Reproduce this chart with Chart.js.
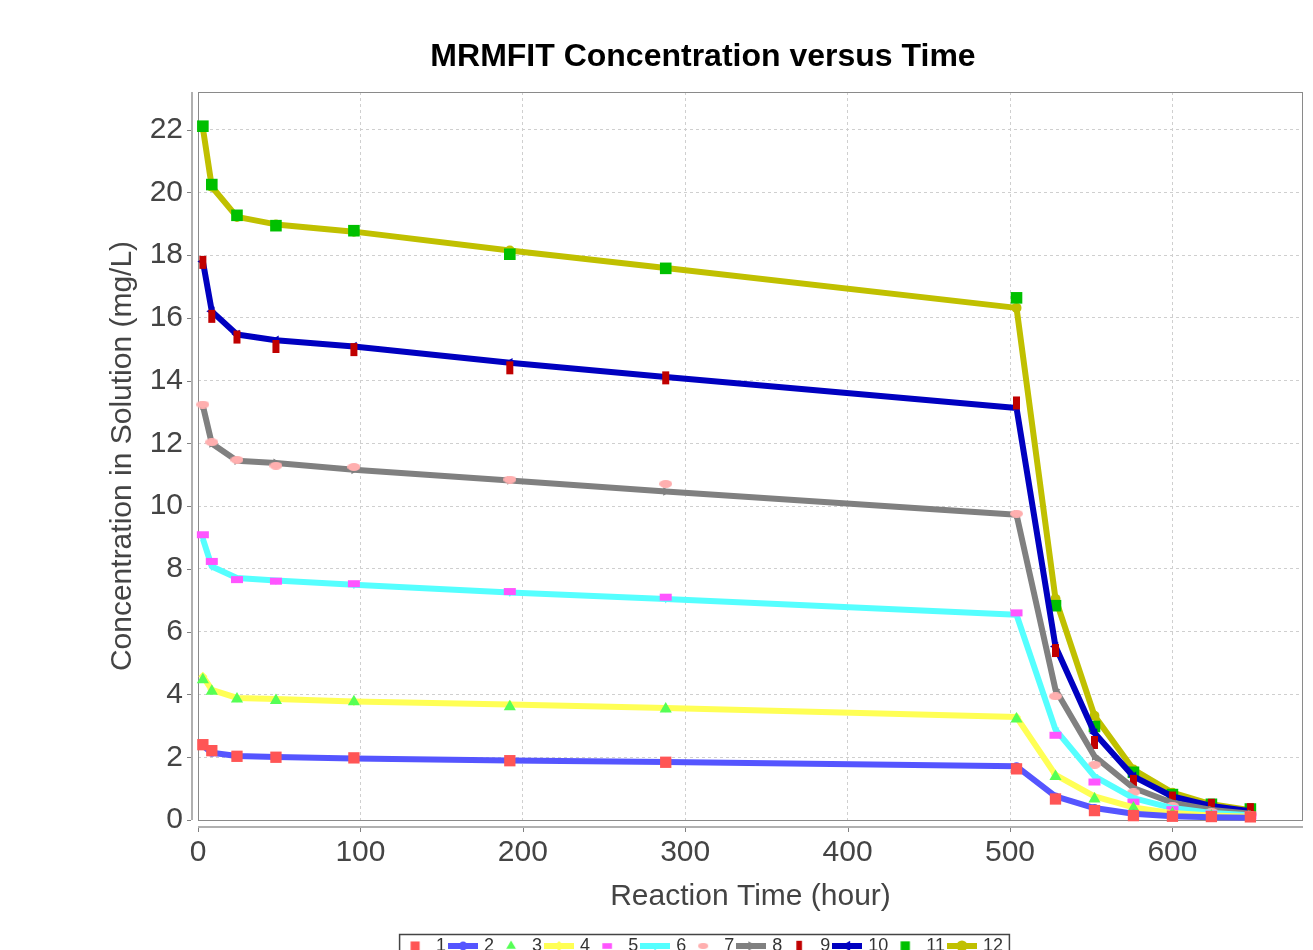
<!DOCTYPE html>
<html>
<head>
<meta charset="utf-8">
<script src="https://cdn.jsdelivr.net/npm/chart.js@4.4.1/dist/chart.umd.min.js"></script>
<style>
html,body{margin:0;padding:0;background:#fff;overflow:hidden;}
#wrap{position:relative;width:1313px;height:950px;overflow:hidden;background:#fff;}
#c{position:absolute;left:0;top:0;}
</style>
</head>
<body>
<div id="wrap"><canvas id="c" width="1406" height="965" style="width:1406px;height:965px"></canvas></div>
<script>
// ---- data ----
const times = [3, 8.5, 24, 48, 96, 192, 288, 504, 528, 552, 576, 600, 624, 648];
const seriesLabels = ['1','2','3','4','5','6','7','8','9','10','11','12'];
const s1  = [2.40, 2.21, 2.03, 2.00, 1.98, 1.89, 1.84, 1.63, 0.67, 0.30, 0.14, 0.12, 0.11, 0.10];
const s2  = [2.37, 2.14, 2.04, 2.01, 1.96, 1.90, 1.85, 1.71, 0.75, 0.38, 0.20, 0.12, 0.09, 0.07];
const s3  = [4.47, 4.10, 3.86, 3.81, 3.77, 3.61, 3.54, 3.22, 1.39, 0.67, 0.38, 0.21, 0.13, 0.09];
const s4  = [4.58, 4.15, 3.89, 3.86, 3.78, 3.68, 3.57, 3.28, 1.44, 0.75, 0.40, 0.22, 0.14, 0.10];
const s5  = [9.09, 8.24, 7.66, 7.61, 7.53, 7.28, 7.10, 6.60, 2.70, 1.21, 0.57, 0.33, 0.19, 0.13];
const s6  = [8.96, 8.08, 7.71, 7.63, 7.50, 7.25, 7.04, 6.54, 2.88, 1.39, 0.70, 0.38, 0.22, 0.15];
const s7  = [13.24, 12.04, 11.48, 11.29, 11.25, 10.85, 10.71, 9.76, 3.94, 1.76, 0.88, 0.45, 0.26, 0.17];
const s8  = [13.20, 12.00, 11.45, 11.38, 11.16, 10.82, 10.47, 9.73, 4.15, 2.03, 1.02, 0.55, 0.32, 0.20];
const s9  = [17.77, 16.05, 15.39, 15.09, 14.99, 14.41, 14.09, 13.29, 5.40, 2.47, 1.23, 0.70, 0.47, 0.33];
const s10 = [17.80, 16.21, 15.47, 15.29, 15.09, 14.57, 14.12, 13.13, 5.53, 2.77, 1.39, 0.75, 0.45, 0.28];
const s11 = [22.11, 20.25, 19.27, 18.94, 18.78, 18.03, 17.58, 16.64, 6.83, 2.98, 1.52, 0.81, 0.50, 0.35];
const s12 = [22.05, 20.18, 19.22, 18.98, 18.75, 18.15, 17.59, 16.32, 7.05, 3.32, 1.61, 0.87, 0.50, 0.31];
const xTickValues = [0, 100, 200, 300, 400, 500, 600];
const yTickValues = [0, 2, 4, 6, 8, 10, 12, 14, 16, 18, 20, 22];
const xAxisMax = 680.4;
const yAxisMax = 23.2;

// ---- styles ----
const FONT = "'Liberation Sans', Arial, sans-serif";
function ellipseImg(color, w, h) {
  const c = document.createElement('canvas'); c.width = w; c.height = h;
  const g = c.getContext('2d'); g.fillStyle = color;
  g.beginPath(); g.ellipse(w/2, h/2, w/2, h/2, 0, 0, Math.PI*2); g.fill();
  return c;
}
const styles = [
  {color:'#FF5555', line:false, ps:'rect', r:8, rot:0, bw:0},
  {color:'#5555FF', line:true,  ps:'circle', r:4, rot:0, bw:0},
  {color:'#55FF55', line:false, ps:'triangle', r:7, rot:0, bw:0},
  {color:'#FFFF55', line:true,  ps:'rectRot', r:4.5, rot:0, bw:0},
  {color:'#FF55FF', line:false, ps:'line', r:6, rot:0, bw:7},
  {color:'#55FFFF', line:true,  ps:'triangle', r:4.5, rot:180, bw:0},
  {color:'#FFAFAF', line:false, ps:ellipseImg('#FFAFAF', 13, 8), r:6, rot:0, bw:0},
  {color:'#808080', line:true,  ps:'triangle', r:5, rot:90, bw:0},
  {color:'#C00000', line:false, ps:'line', r:6.5, rot:90, bw:7},
  {color:'#0000C0', line:true,  ps:'triangle', r:5.5, rot:270, bw:0},
  {color:'#00C000', line:false, ps:'rect', r:8.2, rot:0, bw:0},
  {color:'#C0C000', line:true,  ps:'circle', r:5, rot:0, bw:0}
];
const seriesValues = [s1, s2, s3, s4, s5, s6, s7, s8, s9, s10, s11, s12];

function drawShape(g, st, x, y, scale) {
  const r = st.r * scale;
  g.save();
  g.fillStyle = st.color; g.strokeStyle = st.color;
  g.translate(x, y);
  g.rotate(st.rot * Math.PI / 180);
  if (typeof st.ps !== 'string') {
    const w = st.ps.width * scale, h = st.ps.height * scale;
    g.drawImage(st.ps, -w/2, -h/2, w, h);
  } else if (st.ps === 'rect') {
    const s = Math.SQRT1_2 * r; g.fillRect(-s, -s, 2*s, 2*s);
  } else if (st.ps === 'circle') {
    g.beginPath(); g.arc(0, 0, r, 0, Math.PI*2); g.fill();
  } else if (st.ps === 'triangle') {
    g.beginPath();
    for (let k = 0; k < 3; k++) {
      const a = k * 2 * Math.PI / 3;
      const px = Math.sin(a) * r, py = -Math.cos(a) * r;
      if (k === 0) g.moveTo(px, py); else g.lineTo(px, py);
    }
    g.closePath(); g.fill();
  } else if (st.ps === 'rectRot') {
    g.beginPath(); g.moveTo(0, -r); g.lineTo(r, 0); g.lineTo(0, r); g.lineTo(-r, 0); g.closePath(); g.fill();
  } else if (st.ps === 'line') {
    g.lineWidth = st.bw * scale; g.beginPath(); g.moveTo(-r, 0); g.lineTo(r, 0); g.stroke();
  }
  g.restore();
}
function legendIcon(st) {
  const c = document.createElement('canvas');
  c.width = st.line ? 30 : 16; c.height = 16;
  const g = c.getContext('2d');
  if (st.line) {
    g.strokeStyle = st.color; g.lineWidth = 6;
    g.beginPath(); g.moveTo(0, 8); g.lineTo(30, 8); g.stroke();
    drawShape(g, st, 15, 8, 1.1);
  } else {
    drawShape(g, st, 8, 8, 0.8);
  }
  return c;
}
const icons = styles.map(legendIcon);

const datasets = seriesValues.map((vals, i) => {
  const st = styles[i];
  return {
    label: seriesLabels[i],
    data: times.map((t, k) => ({x: t, y: vals[k]})),
    showLine: st.line,
    borderColor: st.color,
    backgroundColor: st.color,
    borderWidth: st.line ? 6 : 0,
    borderJoinStyle: 'round',
    tension: 0,
    fill: false,
    pointStyle: st.ps,
    pointRadius: st.r,
    pointRotation: st.rot,
    pointBackgroundColor: st.color,
    pointBorderColor: st.color,
    pointBorderWidth: st.bw,
    clip: 8
  };
});

const framePlugin = {
  id: 'frame',
  beforeDatasetsDraw(chart) {
    const {ctx, chartArea: a, scales: {x, y}} = chart;
    ctx.save();
    ctx.strokeStyle = '#8a8a8a'; ctx.lineWidth = 1;
    ctx.strokeRect(a.left + 0.5, a.top + 0.5, a.right - a.left - 1, a.bottom - a.top);
    ctx.strokeStyle = '#b0b0b0'; ctx.lineWidth = 2;
    const ax = a.left - 6, ay = a.bottom + 7;
    ctx.beginPath(); ctx.moveTo(ax, a.top); ctx.lineTo(ax, a.bottom); ctx.stroke();
    ctx.beginPath(); ctx.moveTo(a.left, ay); ctx.lineTo(a.right, ay); ctx.stroke();
    ctx.strokeStyle = '#808080'; ctx.lineWidth = 1;
    ctx.beginPath();
    y.ticks.forEach(t => { const p = Math.round(y.getPixelForValue(t.value)) + 0.5; ctx.moveTo(ax - 5, p); ctx.lineTo(ax - 1, p); });
    x.ticks.forEach(t => { const p = Math.round(x.getPixelForValue(t.value)) + 0.5; ctx.moveTo(p, ay + 1); ctx.lineTo(p, ay + 5); });
    ctx.stroke();
    ctx.restore();
  },
  afterDraw(chart) {
    const lg = chart.legend; if (!lg || !lg.legendHitBoxes) return;
    const hb = lg.legendHitBoxes;
    const l = Math.min(...hb.map(h => h.left)) - 4;
    const r = Math.max(...hb.map(h => h.left + h.width)) + 6;
    const ctx = chart.ctx;
    ctx.save(); ctx.strokeStyle = '#444'; ctx.lineWidth = 1.5;
    ctx.strokeRect(l + 0.5, lg.top + 2.5, r - l, lg.height + 10);
    ctx.restore();
  }
};

new Chart(document.getElementById('c'), {
  type: 'line',
  data: {datasets},
  plugins: [framePlugin],
  options: {
    responsive: false,
    animation: false,
    devicePixelRatio: 1,
    events: [],
    layout: {padding: 0},
    plugins: {
      tooltip: {enabled: false},
      title: {
        display: true,
        text: 'MRMFIT Concentration versus Time',
        color: '#000',
        font: {family: FONT, size: 32, weight: 'bold', lineHeight: 1.2},
        padding: {top: 38, bottom: 15.6}
      },
      legend: {
        display: true,
        position: 'bottom',
        labels: {
          usePointStyle: true,
          pointStyleWidth: 24,
          boxHeight: 18,
          padding: 5,
          color: '#333',
          font: {family: FONT, size: 18},
          generateLabels(chart) {
            return chart.data.datasets.map((ds, i) => ({
              text: ds.label, pointStyle: icons[i], fillStyle: styles[i].color,
              strokeStyle: styles[i].color, lineWidth: 0, hidden: false, datasetIndex: i, fontColor: '#333'
            }));
          }
        }
      }
    },
    scales: {
      x: {
        type: 'linear', min: 0, max: xAxisMax,
        afterFit(s) { s.height = 112; },
        afterBuildTicks(s) { s.ticks = xTickValues.map(v => ({value: v})); },
        ticks: {color: '#444', font: {family: FONT, size: 30}, padding: 15, autoSkip: false, maxRotation: 0,
                callback: v => String(v)},
        grid: {color: '#cfcfcf', lineWidth: 1, drawTicks: false},
        border: {display: false, dash: [3, 3]},
        title: {display: true, text: 'Reaction Time (hour)', color: '#444',
                font: {family: FONT, size: 30, lineHeight: 1.2}, padding: {top: 0, bottom: 17}}
      },
      y: {
        type: 'linear', min: 0, max: yAxisMax,
        afterFit(s) { s.width = 198; },
        afterBuildTicks(s) { s.ticks = yTickValues.map(v => ({value: v})); },
        ticks: {color: '#444', font: {family: FONT, size: 30}, padding: 15, autoSkip: false,
                callback: v => String(v)},
        grid: {color: '#cfcfcf', lineWidth: 1, drawTicks: false},
        border: {display: false, dash: [3, 3]},
        title: {display: true, text: 'Concentration in Solution (mg/L)', color: '#444',
                font: {family: FONT, size: 30, lineHeight: 1.2}, padding: {top: 105, bottom: 0}}
      },
      spacer: {
        type: 'linear', position: 'right', display: true, min: 0, max: 1,
        afterFit(s) { s.width = 103; },
        ticks: {display: false},
        grid: {display: false, drawOnChartArea: false},
        border: {display: false},
        title: {display: false}
      }
    }
  }
});
</script>
</body>
</html>
